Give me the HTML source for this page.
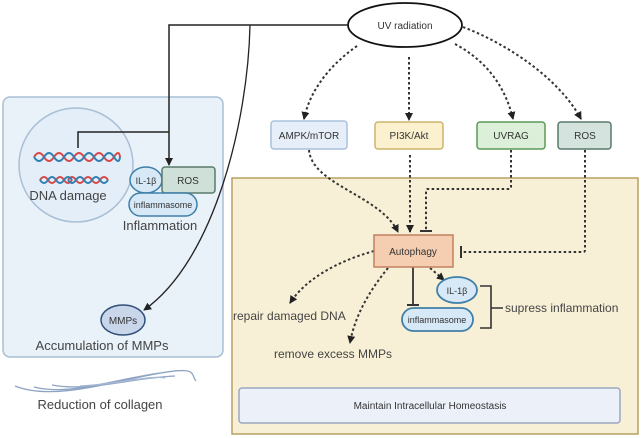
<!DOCTYPE html>
<html><head><meta charset="utf-8"><style>
html,body{margin:0;padding:0;background:#fff;}
svg{display:block;font-family:"Liberation Sans",sans-serif;}
</style></head><body>
<svg width="641" height="438" viewBox="0 0 641 438" xmlns="http://www.w3.org/2000/svg">
<defs>
<marker id="ah" markerWidth="8" markerHeight="8" refX="7" refY="4" orient="auto" markerUnits="userSpaceOnUse">
<path d="M0,0 L8,4 L0,8 z" fill="#222"/></marker>
<marker id="tb" markerWidth="2" markerHeight="12" refX="1" refY="6" orient="auto" markerUnits="userSpaceOnUse">
<rect x="0" y="0" width="2" height="12" fill="#333"/></marker>
</defs>
<!-- panels -->
<rect x="3" y="97" width="220" height="260" rx="7" fill="#e9f1f9" stroke="#a9bfd6" stroke-width="1.5"/>
<rect x="232" y="178" width="406" height="256" fill="#f8f0d6" stroke="#b8a060" stroke-width="1.5"/>
<!-- DNA circle -->
<circle cx="76" cy="165" r="57" fill="#e4eef8" stroke="#a9bfd6" stroke-width="1.5"/>
<path d="M34,157 q5,-8 10,0 t10,0 t10,0 t10,0 t10,0 t10,0 t10,0 t10,0 t6,0" fill="none" stroke="#d94848" stroke-width="2"/>
<path d="M34,157 q5,8 10,0 t10,0 t10,0 t10,0 t10,0 t10,0 t10,0 t10,0 t6,0" fill="none" stroke="#2f7fb0" stroke-width="2"/>
<path d="M40,180 q4,-6 8,0 t8,0 t8,0 t8,0 M68,180 q4,-6 8,0 t8,0 t8,0 t8,0 t8,0" fill="none" stroke="#d94848" stroke-width="2"/>
<path d="M40,180 q4,6 8,0 t8,0 t8,0 t8,0 M68,180 q4,6 8,0 t8,0 t8,0 t8,0 t8,0" fill="none" stroke="#2f7fb0" stroke-width="2"/>
<text x="68" y="200" font-size="13" fill="#444" text-anchor="middle">DNA damage</text>
<!-- inflammation -->
<ellipse cx="146" cy="180" rx="16" ry="13" fill="#d7e9f7" stroke="#3f7fa8" stroke-width="1.5"/>
<text x="146" y="184" font-size="9" fill="#333" text-anchor="middle">IL-1β</text>
<rect x="162" y="167" width="53" height="26" rx="3" fill="#cfe0d8" stroke="#5a7a6a" stroke-width="1.5"/>
<text x="188" y="184" font-size="10" fill="#333" text-anchor="middle">ROS</text>
<rect x="129" y="193" width="68" height="23" rx="11.5" fill="#d7e9f7" stroke="#3f7fa8" stroke-width="1.5"/>
<text x="163" y="208" font-size="9" fill="#333" text-anchor="middle">inflammasome</text>
<text x="160" y="230" font-size="13" fill="#444" text-anchor="middle">Inflammation</text>
<!-- MMPs -->
<ellipse cx="123" cy="320" rx="22" ry="15" fill="#c9d6ea" stroke="#2f4f7a" stroke-width="1.5"/>
<text x="123" y="324" font-size="10" fill="#333" text-anchor="middle">MMPs</text>
<text x="102" y="350" font-size="13" fill="#444" text-anchor="middle">Accumulation of MMPs</text>
<!-- collagen -->
<path d="M15,386 C50,400 100,385 150,375 S190,374 196,381" fill="none" stroke="#8ea4c4" stroke-width="1.3"/>
<path d="M34,387 C70,396 110,380 160,373" fill="none" stroke="#8ea4c4" stroke-width="1.3"/>
<path d="M52,385 C90,392 130,378 175,376" fill="none" stroke="#8ea4c4" stroke-width="1.3"/>
<path d="M80,386 C120,384 150,375 165,378" fill="none" stroke="#a6b8d2" stroke-width="1.3"/>
<text x="100" y="409" font-size="13" fill="#444" text-anchor="middle">Reduction of collagen</text>
<!-- UV -->
<ellipse cx="405" cy="25" rx="57" ry="22" fill="#fff" stroke="#111" stroke-width="1.8"/>
<text x="405" y="29" font-size="10" fill="#333" text-anchor="middle">UV radiation</text>
<!-- solid lines -->
<path d="M348,25 L169,25 L169,165" fill="none" stroke="#222" stroke-width="1.5" marker-end="url(#ah)"/>
<path d="M78,148 L78,132 L169,132" fill="none" stroke="#222" stroke-width="1.5"/>
<path d="M250,25 C248,120 215,260 144,310" fill="none" stroke="#222" stroke-width="1.3" marker-end="url(#ah)"/>
<!-- top boxes -->
<rect x="271" y="121" width="76" height="28" rx="3" fill="#e6eef9" stroke="#a9c0dc" stroke-width="1.5"/>
<text x="309" y="139" font-size="10" fill="#333" text-anchor="middle">AMPK/mTOR</text>
<rect x="375" y="122" width="68" height="27" rx="3" fill="#fbf1cf" stroke="#cdb46c" stroke-width="1.5"/>
<text x="409" y="139" font-size="10" fill="#333" text-anchor="middle">PI3K/Akt</text>
<rect x="477" y="122" width="68" height="27" rx="3" fill="#dcefd8" stroke="#5c9a58" stroke-width="1.5"/>
<text x="511" y="139" font-size="10" fill="#333" text-anchor="middle">UVRAG</text>
<rect x="558" y="122" width="53" height="27" rx="3" fill="#d5e3de" stroke="#5a7a6a" stroke-width="1.5"/>
<text x="585" y="139" font-size="10" fill="#333" text-anchor="middle">ROS</text>
<!-- dotted connectors -->
<g fill="none" stroke="#333" stroke-width="2" stroke-dasharray="2.5,2.5">
<path d="M357,46 C330,65 310,90 304,119" marker-end="url(#ah)"/>
<path d="M409,57 L409,120" marker-end="url(#ah)"/>
<path d="M455,44 C485,60 505,85 513,119" marker-end="url(#ah)"/>
<path d="M463,27 C510,45 560,80 581,119" marker-end="url(#ah)"/>
<path d="M309,150 C312,185 380,195 398,232" marker-end="url(#ah)"/>
<path d="M410,155 L410,232" marker-end="url(#ah)"/>
<path d="M511,150 L511,187 Q511,189 509,189 L428,189 Q426,189 426,191 L426,231" marker-end="url(#tb)"/>
<path d="M585,150 L585,250 Q585,252 583,252 L461,252" marker-end="url(#tb)"/>
<path d="M374,251 C335,262 305,280 290,303" marker-end="url(#ah)"/>
<path d="M388,268 C370,290 355,315 350,343" marker-end="url(#ah)"/>
<path d="M430,268 L444,280" marker-end="url(#ah)"/>
</g>
<path d="M413,267 L413,305" fill="none" stroke="#333" stroke-width="1.8" marker-end="url(#tb)"/>
<!-- autophagy -->
<rect x="374" y="235" width="79" height="32" fill="#f5cdb0" stroke="#c08060" stroke-width="1.5"/>
<text x="413" y="255" font-size="10" fill="#333" text-anchor="middle">Autophagy</text>
<ellipse cx="457" cy="290" rx="20" ry="13" fill="#d7e9f7" stroke="#3f7fa8" stroke-width="1.8"/>
<text x="457" y="294" font-size="9" fill="#333" text-anchor="middle">IL-1β</text>
<rect x="402" y="308" width="71" height="23" rx="11.5" fill="#d7e9f7" stroke="#3f7fa8" stroke-width="1.8"/>
<text x="437" y="323" font-size="9" fill="#333" text-anchor="middle">inflammasome</text>
<path d="M480,286 L491,286 L491,328 L480,328 M491,308 L503,308" fill="none" stroke="#333" stroke-width="1.6"/>
<text x="505" y="312" font-size="12" fill="#444">supress inflammation</text>
<text x="233" y="320" font-size="12" fill="#444">repair damaged DNA</text>
<text x="333" y="358" font-size="12" fill="#444" text-anchor="middle">remove excess MMPs</text>
<rect x="239" y="388" width="381" height="35" rx="3" fill="#ecf1f9" stroke="#9aa9bf" stroke-width="1.5"/>
<text x="430" y="409" font-size="10" fill="#333" text-anchor="middle">Maintain Intracellular Homeostasis</text>
</svg>
</body></html>
